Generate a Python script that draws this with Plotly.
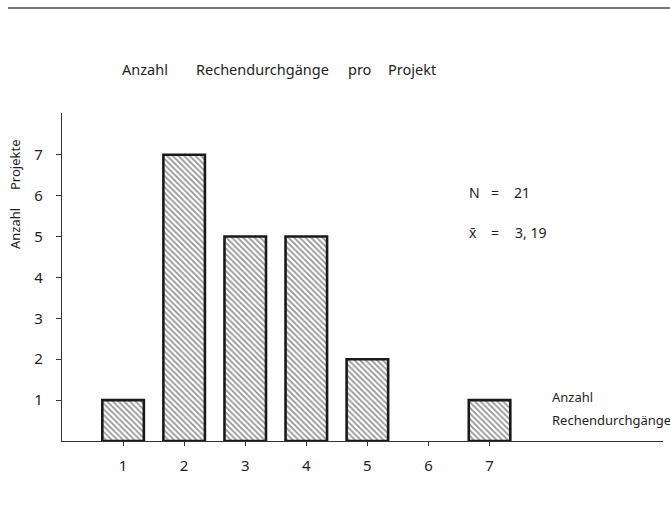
import plotly.graph_objects as go

# Data
categories = [1, 2, 3, 4, 5, 6, 7]
projects = [1, 7, 5, 5, 2, 0, 1]
y_ticks = [1, 2, 3, 4, 5, 6, 7]
x_ticks = [1, 2, 3, 4, 5, 6, 7]
n_total = "21"
x_mean = "3, 19"

W, H = 670, 517
L, R, T, B = 62, 7, 113, 76
PW, PH = W - L - R, H - T - B

def px(x):
    return (x - L) / PW

def py(y):
    return (H - B - y) / PH

FONT = "Noto Sans"
INK = "#1e1e1e"

bx = [c for c, v in zip(categories, projects) if v > 0]
by = [v for v in projects if v > 0]

fig = go.Figure()
fig.add_trace(go.Bar(
    x=bx, y=by, width=0.68,
    marker=dict(
        color="white",
        line=dict(color="#1a1a1a", width=2.6),
        pattern=dict(shape="\\", fgcolor="#2a2a2a", bgcolor="white", size=4, solidity=0.45),
    ),
    showlegend=False,
))

fig.update_layout(
    width=W, height=H,
    margin=dict(l=L, r=R, t=T, b=B),
    paper_bgcolor="white", plot_bgcolor="white",
    font=dict(family=FONT, color=INK, size=14),
    xaxis=dict(range=[0, 9.84], tickvals=x_ticks, ticktext=[str(v) for v in x_ticks],
               showline=True, linecolor="#333", linewidth=1.3, showgrid=False, zeroline=False,
               ticks="outside", ticklen=4, tickcolor="#333", tickwidth=1, ticklabelstandoff=7,
               tickfont=dict(size=15, family=FONT, color=INK)),
    yaxis=dict(range=[0, 8.02], tickvals=y_ticks, ticktext=[str(v) for v in y_ticks],
               showline=True, linecolor="#333", linewidth=1.3, showgrid=False, zeroline=False,
               ticks="outside", ticklen=5, tickcolor="#333", tickwidth=1, ticklabelstandoff=10,
               tickfont=dict(size=15, family=FONT, color=INK)),
)

ann = []
def text(t, x, y, size=14, xanchor="left", angle=0):
    ann.append(dict(text=t, x=px(x), y=py(y), xref="paper", yref="paper", showarrow=False,
                    xanchor=xanchor, yanchor="middle", textangle=angle,
                    font=dict(family=FONT, size=size, color=INK)))

# title words
text("Anzahl", 120, 69, 14.5)
text("Rechendurchgänge", 194, 69, 14.5)
text("pro", 346, 69, 14.5)
text("Projekt", 386, 69, 14.5)

# y title
text("Anzahl", 15, 229, 13, xanchor="center", angle=-90)
text("Projekte", 15, 165, 13, xanchor="center", angle=-90)

# stats
text("N", 467, 192, 14)
text("=", 489, 192, 14)
text(n_total, 512, 192, 14)
text("x̄", 467, 232, 14)
text("=", 489, 232, 14)
text(x_mean, 513, 232, 14)

# x title
text("Anzahl", 550, 397, 13)
text("Rechendurchgänge", 550, 420, 13)

fig.update_layout(annotations=ann)

fig.add_shape(type="line", xref="paper", yref="paper",
              x0=px(8), x1=px(670), y0=py(8), y1=py(8),
              line=dict(color="#444", width=1.5))

fig.write_html("out.html", config={"displayModeBar": False},
               post_script="document.body.style.margin='0';document.body.style.overflow='hidden';")
